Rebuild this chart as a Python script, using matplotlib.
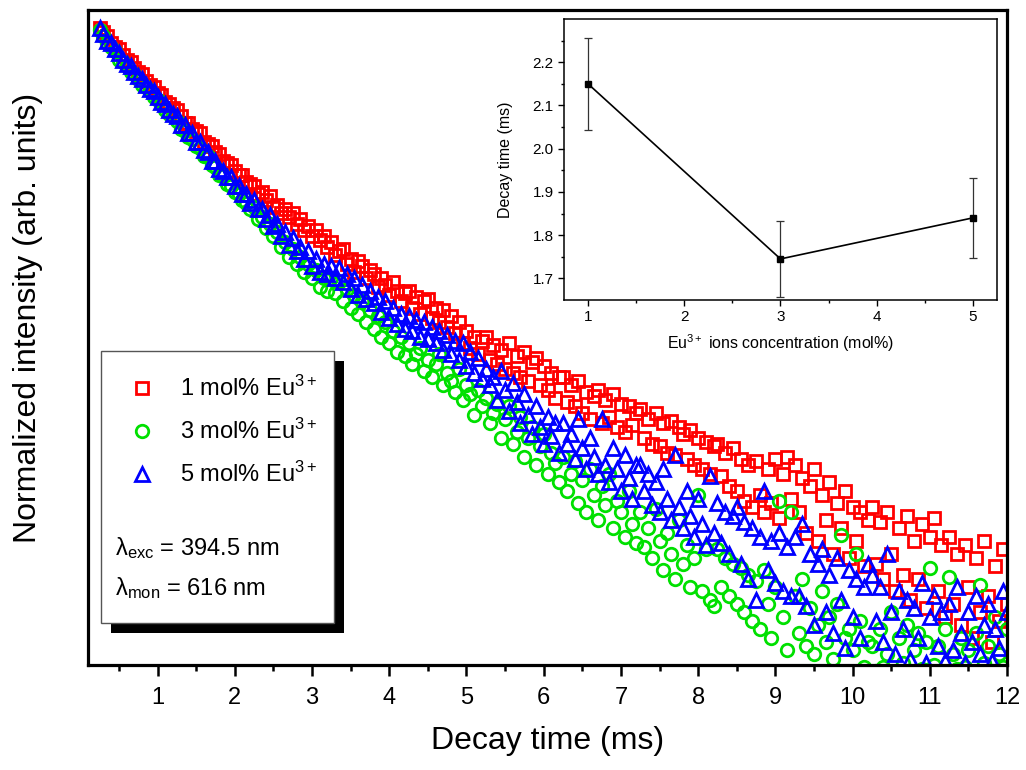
import matplotlib.pyplot as plt
import numpy as np
from matplotlib.patches import Rectangle
from matplotlib.ticker import NullLocator

# czcionki podobne do Arial
plt.rcParams['font.family'] = ['Liberation Sans', 'DejaVu Sans']
plt.rcParams['mathtext.fontset'] = 'custom'
plt.rcParams['mathtext.rm'] = 'Liberation Sans'
plt.rcParams['mathtext.it'] = 'Liberation Sans:italic'
plt.rcParams['mathtext.bf'] = 'Liberation Sans:bold'

# kanaly czasowe (ms), krok 0.05 ms
czas = np.round(np.arange(0.25, 12.0001, 0.05), 2)

# log10 znormalizowanej intensywnosci
log_eu1 = [
    0.00, -0.02, -0.04, -0.07, -0.09, -0.10, -0.13, -0.15, -0.16, -0.19, -0.21, -0.22, -0.25, -0.27, -0.28, -0.31, -0.32, -0.35, -0.36, -0.38,
    -0.39, -0.42, -0.45, -0.45, -0.48, -0.49, -0.50, -0.54, -0.55, -0.56, -0.59, -0.60, -0.63, -0.64, -0.65, -0.68, -0.70, -0.70, -0.73, -0.74,
    -0.75, -0.79, -0.78, -0.82, -0.80, -0.85, -0.84, -0.88, -0.86, -0.90, -0.88, -0.93, -0.91, -0.96, -0.94, -0.99, -0.96, -1.01, -0.99, -1.04,
    -1.02, -1.08, -1.06, -1.05, -1.12, -1.10, -1.16, -1.11, -1.13, -1.19, -1.15, -1.17, -1.23, -1.19, -1.22, -1.27, -1.21, -1.25, -1.30, -1.26,
    -1.25, -1.33, -1.28, -1.36, -1.30, -1.29, -1.38, -1.33, -1.40, -1.34, -1.42, -1.37, -1.45, -1.40, -1.50, -1.44, -1.52, -1.47, -1.55, -1.49,
    -1.47, -1.58, -1.51, -1.60, -1.53, -1.62, -1.50, -1.64, -1.56, -1.66, -1.54, -1.68, -1.59, -1.57, -1.70, -1.61, -1.72, -1.64, -1.76, -1.66,
    -1.66, -1.78, -1.70, -1.80, -1.68, -1.83, -1.73, -1.86, -1.75, -1.72, -1.88, -1.77, -1.85, -1.74, -1.90, -1.79, -1.92, -1.80, -1.89, -1.83,
    -1.81, -1.95, -1.86, -1.98, -1.83, -1.99, -1.88, -2.02, -1.87, -2.03, -1.90, -1.93, -2.05, -1.91, -2.08, -1.95, -2.10, -1.97, -2.12, -1.99,
    -1.98, -2.13, -2.02, -2.18, -2.00, -2.20, -2.05, -2.25, -2.08, -2.28, -2.06, -2.22, -2.30, -2.10, -2.26, -2.05, -2.33, -2.12, -2.04, -2.24,
    -2.08, -2.30, -2.14, -2.40, -2.18, -2.10, -2.44, -2.22, -2.34, -2.16, -2.50, -2.26, -2.38, -2.20, -2.52, -2.28, -2.44, -2.30, -2.56, -2.34,
    -2.28, -2.55, -2.35, -2.62, -2.30, -2.50, -2.68, -2.38, -2.60, -2.32, -2.72, -2.44, -2.62, -2.36, -2.76, -2.42, -2.33, -2.68, -2.46, -2.80,
    -2.42, -2.74, -2.50, -2.84, -2.46, -2.66, -2.90, -2.52, -2.78, -2.44, -2.70, -2.92, -2.56, -2.82, -2.48, -2.74,
]

log_eu3 = [
    -0.01, -0.04, -0.07, -0.09, -0.11, -0.15, -0.16, -0.18, -0.21, -0.22, -0.24, -0.27, -0.28, -0.30, -0.33, -0.34, -0.36, -0.39, -0.41, -0.42,
    -0.44, -0.48, -0.49, -0.52, -0.53, -0.56, -0.57, -0.61, -0.61, -0.65, -0.66, -0.70, -0.70, -0.74, -0.75, -0.78, -0.79, -0.82, -0.83, -0.86,
    -0.85, -0.91, -0.90, -0.95, -0.93, -0.99, -0.97, -1.04, -1.02, -1.09, -1.05, -1.12, -1.09, -1.16, -1.12, -1.19, -1.15, -1.23, -1.19, -1.25,
    -1.19, -1.26, -1.21, -1.30, -1.24, -1.33, -1.27, -1.36, -1.30, -1.40, -1.34, -1.43, -1.37, -1.47, -1.40, -1.50, -1.44, -1.54, -1.47, -1.56,
    -1.50, -1.60, -1.55, -1.52, -1.63, -1.58, -1.66, -1.60, -1.55, -1.70, -1.64, -1.68, -1.73, -1.62, -1.77, -1.70, -1.74, -1.84, -1.72, -1.80,
    -1.76, -1.88, -1.83, -1.79, -1.95, -1.86, -1.80, -1.98, -1.92, -1.85, -2.04, -1.95, -1.90, -2.08, -1.99, -1.93, -2.12, -2.02, -2.07, -2.16,
    -2.04, -2.20, -2.12, -2.06, -2.26, -2.15, -2.30, -2.10, -2.22, -2.34, -2.18, -2.27, -2.12, -2.38, -2.25, -2.30, -2.42, -2.20, -2.36, -2.45,
    -2.30, -2.47, -2.38, -2.52, -2.29, -2.44, -2.58, -2.40, -2.50, -2.62, -2.34, -2.55, -2.46, -2.66, -2.52, -2.22, -2.68, -2.48, -2.72, -2.75,
    -2.48, -2.66, -2.52, -2.70, -2.55, -2.74, -2.57, -2.78, -2.60, -2.82, -2.63, -2.86, -2.58, -2.74, -2.90, -2.66, -2.25, -2.80, -2.96, -2.30,
    -2.70, -2.88, -2.62, -2.94, -2.76, -2.98, -2.84, -2.68, -2.92, -2.80, -3.00, -2.74, -2.41, -2.90, -2.86, -2.96, -2.50, -2.82, -3.04, -2.92,
    -2.94, -3.06, -2.86, -3.04, -2.98, -2.78, -3.08, -2.90, -3.02, -2.84, -3.06, -2.96, -2.88, -3.05, -2.92, -2.57, -3.03, -2.94, -3.07, -2.86,
    -2.61, -2.98, -3.05, -2.90, -3.04, -2.96, -3.07, -2.88, -2.65, -3.02, -2.94, -3.06, -2.80, -2.98, -3.04, -2.86,
]

log_eu5 = [
    0.00, -0.03, -0.06, -0.07, -0.10, -0.12, -0.15, -0.17, -0.18, -0.21, -0.23, -0.24, -0.27, -0.29, -0.30, -0.33, -0.35, -0.36, -0.39, -0.41,
    -0.42, -0.46, -0.46, -0.50, -0.50, -0.54, -0.54, -0.58, -0.59, -0.63, -0.63, -0.67, -0.68, -0.71, -0.71, -0.75, -0.75, -0.79, -0.79, -0.83,
    -0.82, -0.86, -0.86, -0.91, -0.89, -0.94, -0.93, -0.99, -0.97, -1.03, -1.00, -1.06, -1.04, -1.10, -1.06, -1.13, -1.10, -1.16, -1.12, -1.17,
    -1.13, -1.19, -1.14, -1.21, -1.17, -1.24, -1.19, -1.27, -1.22, -1.29, -1.25, -1.31, -1.28, -1.35, -1.30, -1.38, -1.33, -1.41, -1.36, -1.43,
    -1.37, -1.44, -1.39, -1.47, -1.40, -1.48, -1.42, -1.50, -1.44, -1.53, -1.46, -1.55, -1.49, -1.58, -1.50, -1.61, -1.54, -1.64, -1.57, -1.67,
    -1.62, -1.70, -1.66, -1.77, -1.63, -1.72, -1.82, -1.69, -1.78, -1.88, -1.74, -1.84, -1.93, -1.80, -1.90, -1.98, -1.85, -1.94, -1.88, -2.02,
    -1.88, -1.98, -1.93, -2.05, -1.86, -2.00, -2.10, -1.95, -2.04, -2.12, -1.86, -2.08, -2.16, -2.00, -2.10, -2.20, -2.03, -2.14, -2.24, -2.08,
    -2.08, -2.20, -2.12, -2.27, -2.16, -2.30, -2.10, -2.24, -2.34, -2.03, -2.28, -2.38, -2.20, -2.32, -2.42, -2.24, -2.36, -2.46, -2.13, -2.40,
    -2.26, -2.45, -2.30, -2.50, -2.32, -2.28, -2.55, -2.35, -2.62, -2.38, -2.72, -2.42, -2.20, -2.58, -2.44, -2.64, -2.40, -2.68, -2.47, -2.70,
    -2.42, -2.70, -2.36, -2.75, -2.50, -2.84, -2.55, -2.48, -2.78, -2.60, -2.88, -2.52, -2.72, -2.95, -2.58, -2.80, -2.62, -2.90, -2.66, -2.55,
    -2.60, -2.82, -2.66, -2.92, -2.50, -2.78, -2.98, -2.68, -2.86, -2.72, -3.00, -2.76, -2.90, -2.64, -3.02, -2.80, -2.70, -2.94, -2.78, -3.01,
    -2.74, -2.96, -2.66, -2.88, -3.02, -2.78, -2.92, -2.70, -2.98, -2.84, -2.74, -3.01, -2.86, -2.95, -2.68, -2.78,
]

# dane do wstawki: czas zaniku vs stezenie Eu3+
stezenie = [1, 3, 5]
czas_zaniku = [2.15, 1.745, 1.84]
blad = [0.107, 0.088, 0.092]

fig = plt.figure(figsize=(10.26, 7.7), dpi=100)
ax = fig.add_axes([0.0858, 0.1364, 0.8957, 0.8506])

serie = [
    (log_eu1, 's', '#ff0000', '1 mol% Eu$^{3+}$', 8.5),
    (log_eu3, 'o', '#00e000', '3 mol% Eu$^{3+}$', 9.0),
    (log_eu5, '^', '#0000ff', '5 mol% Eu$^{3+}$', 10.0),
]
for wartosci, znacznik, kolor, etykieta, rozmiar in serie:
    ax.plot(czas, 10 ** np.array(wartosci), linestyle='none', marker=znacznik,
            markersize=rozmiar, markerfacecolor='none', markeredgecolor=kolor,
            markeredgewidth=2.0, label=etykieta)

ax.set_yscale('log')
ax.set_ylim(10 ** -3.03, 10 ** 0.086)
ax.set_xlim(0.1, 12)
ax.yaxis.set_major_locator(NullLocator())
ax.yaxis.set_minor_locator(NullLocator())
ax.set_xticks(range(1, 13))
ax.set_xticks(np.arange(0.5, 12, 1.0), minor=True)
ax.tick_params(axis='x', which='major', direction='out', length=8, width=1.8,
               labelsize=17, pad=8)
ax.tick_params(axis='x', which='minor', direction='out', length=4.5, width=1.8)
for s in ax.spines.values():
    s.set_linewidth(2.3)

ax.set_xlabel('Decay time (ms)', fontsize=23, labelpad=12)
fig.text(28 / 1026, 1 - 318 / 770, 'Normalized intensity (arb. units)',
         rotation=90, fontsize=23, ha='center', va='center')

# ramka legendy z cieniem
ax.add_patch(Rectangle((0.0251, 0.0488), 0.2536, 0.4153, transform=ax.transAxes,
                       facecolor='black', edgecolor='none', zorder=4))
ax.add_patch(Rectangle((0.01415, 0.0641), 0.2536, 0.4153, transform=ax.transAxes,
                       facecolor='white', edgecolor='#555555', linewidth=1.0, zorder=4.5))
leg = ax.legend(loc='upper left', bbox_to_anchor=(0.0330, 0.4412), frameon=False,
                fontsize=17, handlelength=2.0, handletextpad=0.6, labelspacing=0.75,
                borderpad=0, borderaxespad=0)
leg.set_zorder(6)
ax.text(0.0294, 0.1786, 'λ$_{\\mathrm{exc}}$ = 394.5 nm', transform=ax.transAxes,
        fontsize=17, va='center', ha='left', zorder=6)
ax.text(0.0294, 0.1176, 'λ$_{\\mathrm{mon}}$ = 616 nm', transform=ax.transAxes,
        fontsize=17, va='center', ha='left', zorder=6)

# wstawka
axi = fig.add_axes([0.5497, 0.6104, 0.422, 0.3649])
axi.errorbar(stezenie, czas_zaniku, yerr=blad, fmt='s-', color='black', markersize=4.5,
             linewidth=1.2, ecolor='#333333', elinewidth=0.9, capsize=3, capthick=0.9)
axi.set_xlim(0.75, 5.25)
axi.set_ylim(1.65, 2.3)
axi.set_xticks([1, 2, 3, 4, 5])
axi.set_xticks([1.5, 2.5, 3.5, 4.5], minor=True)
axi.set_yticks([1.7, 1.8, 1.9, 2.0, 2.1, 2.2])
axi.set_yticks([1.75, 1.85, 1.95, 2.05, 2.15, 2.25], minor=True)
axi.tick_params(which='major', direction='out', length=4, width=1, labelsize=11)
axi.tick_params(which='minor', direction='out', length=2.5, width=1)
for s in axi.spines.values():
    s.set_linewidth(1.1)
axi.set_xlabel('Eu$^{3+}$ ions concentration (mol%)', fontsize=11.5, labelpad=6)
axi.set_ylabel('Decay time (ms)', fontsize=11.5, labelpad=14)

fig.savefig('out.png', dpi=100)
